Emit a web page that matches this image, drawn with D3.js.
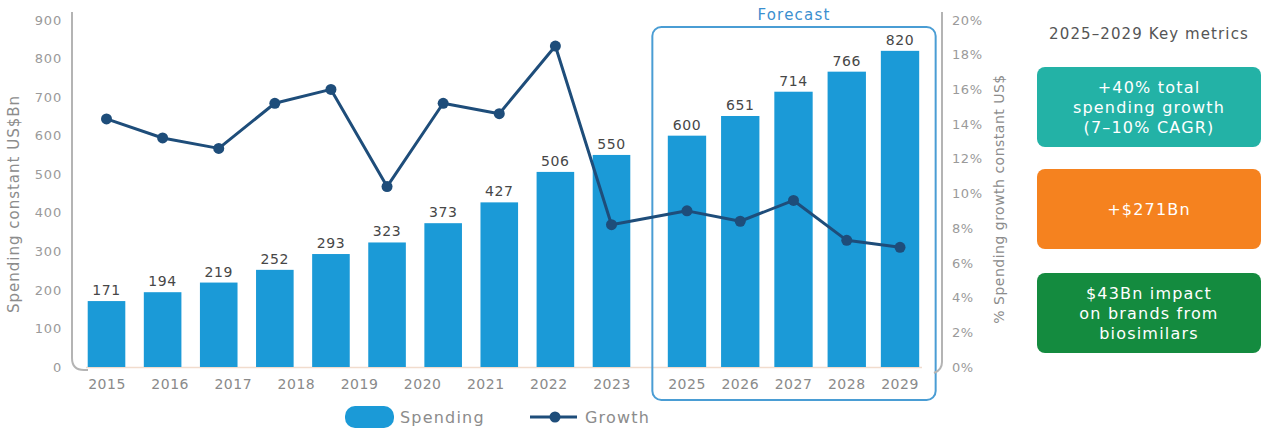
<!DOCTYPE html>
<html>
<head>
<meta charset="utf-8">
<script src="https://cdn.jsdelivr.net/npm/d3@7"></script>
<style>
  html, body { margin: 0; padding: 0; background: #ffffff; }
  svg { display: block; font-family: "DejaVu Sans", "Open Sans", sans-serif; }
</style>
</head>
<body>
<svg id="chart" width="1262" height="430"></svg>
<script>
// Spending (US$Bn, constant) and growth (%) by year
const histYears = ["2015","2016","2017","2018","2019","2020","2021","2022","2023","2024"];
const forecastYears = ["2025","2026","2027","2028","2029"];
const spending = [171, 194, 219, 252, 293, 323, 373, 427, 506, 550, 600, 651, 714, 766, 820];
const growth = [14.3, 13.2, 12.6, 15.2, 16.0, 10.4, 15.2, 14.6, 18.5, 8.2, 9.0, 8.4, 9.6, 7.3, 6.9];

// Axis labels
const histTickLabels = ["2015","2016","2017","2018","2019","2020","2021","2022","2023"];
const leftTicks = [0, 100, 200, 300, 400, 500, 600, 700, 800, 900];
const rightTicks = [0, 2, 4, 6, 8, 10, 12, 14, 16, 18, 20];

// Key metrics panel
const panelTitle = "2025\u20132029 Key metrics";
const metricLines = [
  ["+40% total", "spending growth", "(7\u201310% CAGR)"],
  ["+$271Bn"],
  ["$43Bn impact", "on brands from", "biosimilars"]
];
const metricColors = ["#23b2a6", "#f5821f", "#148b3f"];

const BAR = "#1b9ad7", LINE = "#1e4d7a", GREY = "#8c8c8c";

const svg = d3.select("#chart");

const y = d3.scaleLinear().domain([0, 900]).range([367, 20]);
const yR = d3.scaleLinear().domain([0, 20]).range([367, 20]);

const xHist = d3.scaleBand().domain(histYears).range([78.45, 639.55]).paddingInner(0.33).paddingOuter(0.165);
const xFc = d3.scaleBand().domain(forecastYears).range([660.35, 926.65]).paddingInner(0.28).paddingOuter(0.14);

const allYears = histYears.concat(forecastYears);
const data = allYears.map((yr, i) => ({
  year: yr,
  spend: spending[i],
  growth: growth[i],
  scale: i < histYears.length ? xHist : xFc
}));
const xLeft = d => d.scale(d.year);
const xMid = d => d.scale(d.year) + d.scale.bandwidth() / 2;

// faint baseline
svg.append("line")
  .attr("x1", 86).attr("x2", 922)
  .attr("y1", y(0) + 0.5).attr("y2", y(0) + 0.5)
  .attr("stroke", "#f1dccd").attr("stroke-width", 1.5);

// Forecast frame
const fcX0 = xFc.range()[0] - 8, fcX1 = xFc.range()[1] + 9;
svg.append("rect")
  .attr("x", fcX0).attr("y", 27)
  .attr("width", fcX1 - fcX0).attr("height", 373)
  .attr("rx", 9).attr("fill", "none")
  .attr("stroke", "#4a9dd4").attr("stroke-width", 2);
svg.append("text")
  .attr("x", (fcX0 + fcX1) / 2).attr("y", 20)
  .attr("text-anchor", "middle")
  .attr("font-size", 15).attr("letter-spacing", 1.2).attr("fill", "#3b8fcf")
  .text("Forecast");

// Bars
svg.append("g").selectAll("rect").data(data).join("rect")
  .attr("x", xLeft)
  .attr("y", d => y(d.spend))
  .attr("width", d => d.scale.bandwidth())
  .attr("height", d => y(0) - y(d.spend))
  .attr("fill", BAR);

// Bar value labels
svg.append("g").selectAll("text").data(data).join("text")
  .attr("x", xMid)
  .attr("y", d => y(d.spend) - 6)
  .attr("text-anchor", "middle")
  .attr("font-size", 14).attr("letter-spacing", 0.6)
  .attr("fill", "#474747")
  .text(d => d.spend);

// Left axis
const gL = svg.append("g").attr("transform", "translate(72,0)")
  .call(d3.axisLeft(y).tickValues(leftTicks).tickSize(0).tickPadding(10));
gL.select(".domain").remove();
gL.selectAll("text").attr("font-size", 13).attr("letter-spacing", 0.8)
  .attr("fill", "#9a9a9a").attr("font-family", "DejaVu Sans, sans-serif");
svg.append("path")
  .attr("d", "M72,12 V358 Q72,370 84,370 H88")
  .attr("fill", "none").attr("stroke", "#b4b4b4").attr("stroke-width", 2);

// Right axis
const gR = svg.append("g").attr("transform", "translate(942,0)")
  .call(d3.axisRight(yR).tickValues(rightTicks).tickSize(0).tickPadding(10).tickFormat(d => d + "%"));
gR.select(".domain").remove();
gR.selectAll("text").attr("font-size", 13).attr("letter-spacing", 0.6)
  .attr("fill", "#9a9a9a").attr("font-family", "DejaVu Sans, sans-serif");
svg.append("path")
  .attr("d", "M942,12 V362 Q942,370 934,373")
  .attr("fill", "none").attr("stroke", "#b4b4b4").attr("stroke-width", 2);

// Axis titles
svg.append("text")
  .attr("transform", "translate(19,204) rotate(-90)")
  .attr("text-anchor", "middle").attr("font-size", 15).attr("letter-spacing", 1)
  .attr("fill", GREY)
  .text("Spending constant US$Bn");
svg.append("text")
  .attr("transform", "translate(1004,199) rotate(-90)")
  .attr("text-anchor", "middle").attr("font-size", 14).attr("letter-spacing", 0.5)
  .attr("fill", GREY)
  .text("% Spending growth constant US$");

// X-axis labels
const xTickHist = d3.scalePoint().domain(histTickLabels)
  .range([xHist(histYears[0]) + xHist.bandwidth() / 2, xHist(histYears[histYears.length - 1]) + xHist.bandwidth() / 2]);
const gXH = svg.append("g").attr("transform", `translate(0,${y(0)})`)
  .call(d3.axisBottom(xTickHist).tickSize(0).tickPadding(12));
const gXF = svg.append("g").attr("transform", `translate(0,${y(0)})`)
  .call(d3.axisBottom(xFc).tickSize(0).tickPadding(12));
[gXH, gXF].forEach(g => {
  g.select(".domain").remove();
  g.selectAll("text").attr("font-size", 14).attr("letter-spacing", 0.5)
    .attr("fill", "#8a8a8a").attr("font-family", "DejaVu Sans, sans-serif");
});

// Growth line
const line = d3.line().x(xMid).y(d => yR(d.growth));
svg.append("path").datum(data)
  .attr("d", line).attr("fill", "none")
  .attr("stroke", LINE).attr("stroke-width", 3).attr("stroke-linejoin", "round");
svg.append("g").selectAll("circle").data(data).join("circle")
  .attr("cx", xMid).attr("cy", d => yR(d.growth))
  .attr("r", 5.5).attr("fill", LINE);

// Legend
const lg = svg.append("g").attr("transform", "translate(0,417)");
lg.append("rect").attr("x", 345).attr("y", -11).attr("width", 49).attr("height", 22)
  .attr("rx", 10).attr("fill", BAR);
lg.append("text").attr("x", 400).attr("y", 6).attr("font-size", 16).attr("letter-spacing", 1.2)
  .attr("fill", GREY).text("Spending");
lg.append("line").attr("x1", 530).attr("x2", 577).attr("y1", 0).attr("y2", 0)
  .attr("stroke", LINE).attr("stroke-width", 3);
lg.append("circle").attr("cx", 555).attr("cy", 0).attr("r", 5.5).attr("fill", LINE);
lg.append("text").attr("x", 585).attr("y", 6).attr("font-size", 16).attr("letter-spacing", 1.2)
  .attr("fill", GREY).text("Growth");

// Key metrics panel
const px = 1037, pw = 224;
svg.append("text")
  .attr("x", px + pw / 2).attr("y", 39)
  .attr("text-anchor", "middle").attr("font-size", 15).attr("letter-spacing", 1.1)
  .attr("fill", "#555")
  .text(panelTitle);
const boxTops = [67, 169, 273];
const boxH = 80;
metricLines.forEach((lines, i) => {
  const g = svg.append("g");
  g.append("rect").attr("x", px).attr("y", boxTops[i]).attr("width", pw).attr("height", boxH)
    .attr("rx", 8).attr("fill", metricColors[i]);
  const lh = 20;
  const cy = boxTops[i] + boxH / 2;
  lines.forEach((t, j) => {
    g.append("text")
      .attr("x", px + pw / 2)
      .attr("y", cy + (j - (lines.length - 1) / 2) * lh + 6)
      .attr("text-anchor", "middle").attr("font-size", 16).attr("letter-spacing", 1.2)
      .attr("fill", "#ffffff")
      .text(t);
  });
});
</script>
</body>
</html>
